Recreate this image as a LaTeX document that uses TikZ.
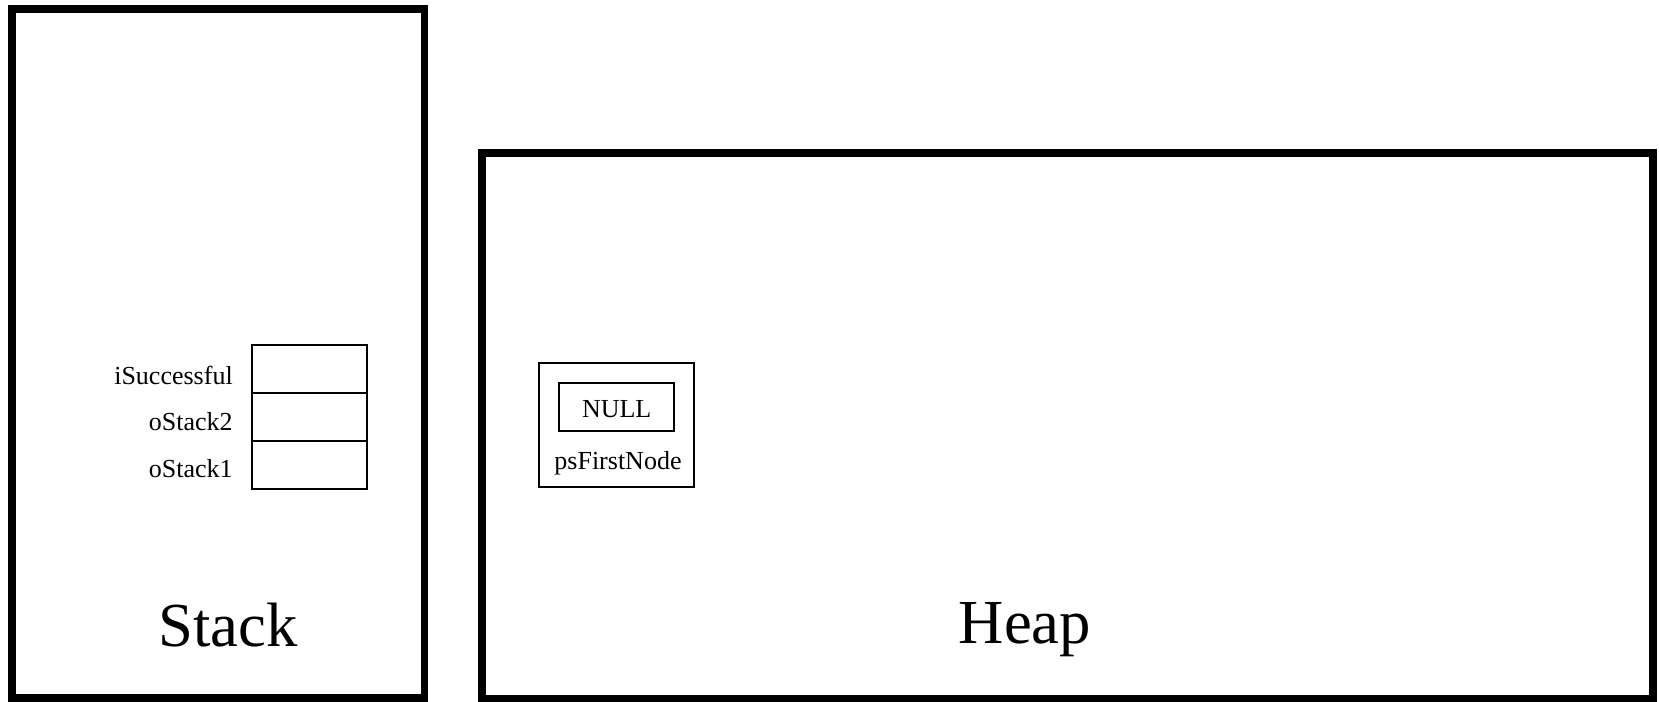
\documentclass[tikz,border=0pt]{standalone}
\usepackage{fontspec}
\setmainfont{Liberation Serif}
\begin{document}
\begin{tikzpicture}[x=0.75pt,y=-0.75pt,
  region/.style={draw,line width=5.8pt,inner sep=0pt,outer sep=0pt},
  cell/.style={draw,line width=1.5pt,minimum width=115.6*0.75pt,minimum height=48*0.75pt,inner sep=0pt,outer sep=0pt},
  lbl/.style={font=\fontsize{19.5pt}{22pt}\selectfont,inner sep=0pt,anchor=base east},
  small/.style={font=\fontsize{19.5pt}{22pt}\selectfont,inner sep=0pt,anchor=base},
  big/.style={font=\fontsize{47pt}{52pt}\selectfont,inner sep=0pt,anchor=base}]
\useasboundingbox (0,0) rectangle (1659,701);
% regions
\node[region,minimum width=412.5*0.75pt,minimum height=689*0.75pt] (stack) at (218.25,353.4) {};
\node[region,minimum width=1171*0.75pt,minimum height=546*0.75pt] (heap) at (1067.5,426) {};
\node[big] (stacklbl) at (228,646) {Stack};
\node[big] (heaplbl) at (1025,643) {Heap};
% stack cells
\node[cell] (c3) at (309.5,368.5) {};
\node[cell] (c2) at (309.5,416.6) {};
\node[cell] (c1) at (309.5,464.6) {};
\node[lbl] (l3) at (233,384) {iSuccessful};
\node[lbl] (l2) at (233,430) {oStack2};
\node[lbl] (l1) at (233,477.7) {oStack1};
% heap object
\node[draw,line width=1.5pt,minimum width=154.4*0.75pt,minimum height=124.6*0.75pt,inner sep=0pt] (obj) at (616.5,425) {};
\node[draw,line width=1.5pt,minimum width=115.3*0.75pt,minimum height=47.7*0.75pt,inner sep=0pt] (field) at (616.7,407.2) {};
\node[small] (nulltxt) at (616.7,417.7) {NULL};
\node[small] (fname) at (618,469) {psFirstNode};
\end{tikzpicture}
\end{document}
